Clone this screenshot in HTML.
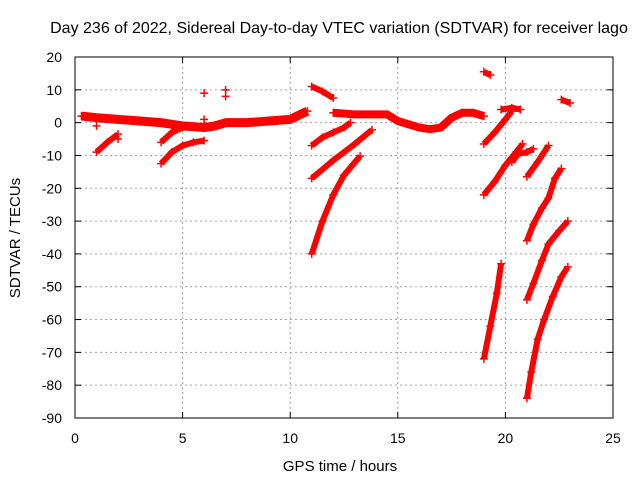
<!DOCTYPE html>
<html><head><meta charset="utf-8"><style>
body{margin:0;background:#fff}
svg{display:block;font-family:"Liberation Sans",sans-serif}
</style></head><body>
<svg id="c" width="640" height="480">
<text x="339" y="33" font-size="16" text-anchor="middle">Day 236 of 2022, Sidereal Day-to-day VTEC variation (SDTVAR) for receiver lago</text>
<text x="340" y="471" font-size="15" text-anchor="middle">GPS time / hours</text>
<text transform="translate(20,238) rotate(-90)" font-size="15" text-anchor="middle">SDTVAR / TECUs</text>
<g id="grid"></g><g id="ticks"></g><g id="marks"></g>
<rect x="75" y="57" width="538" height="361" fill="none" stroke="#000" stroke-width="1"/>
</svg>
<script>
const xTicks=[0,5,10,15,20,25];
const yTicks=[20,10,0,-10,-20,-30,-40,-50,-60,-70,-80,-90];
const mainBand=[[0.3,2],[1,1.5],[2,1],[3,0.5],[4,0],[5,-1],[6,-1.5],[6.5,-1],[7,0],[8,0],[9,0.5],[10,1],[10.8,3.5]];
const track2=[[1,-9],[1.5,-6],[2,-3.5]];
const track3=[[4,-6],[4.5,-3],[5,-1.5],[5.5,-1],[6,-1]];
const track4=[[4,-12.5],[4.5,-9],[5,-7],[5.5,-6],[6,-5.5]];
const track5=[[11,11],[11.5,9.5],[12,7.5]];
const track6=[[11,-7],[11.5,-4.5],[12,-3],[12.5,-1.5],[12.8,0]];
const track7=[[11,-17],[12,-11.5],[13,-6.5],[13.8,-2.2]];
const track8=[[11,-40],[11.5,-30],[12,-22],[12.5,-16],[13.25,-10.2]];
const band2=[[12,3],[13,2.5],[14,2.5],[14.5,2.5],[15,0.5],[15.5,-0.5],[16,-1.5],[16.5,-2],[17,-1.5],[17.5,1.5],[18,3],[18.5,3],[19,2]];
const track10=[[19,15.5],[19.3,14.5]];
const track11=[[19,-6.5],[19.5,-3],[20,1],[20.3,3.5]];
const track12=[[19.8,4],[20.3,4.5],[20.7,4]];
const track13=[[22.6,7],[23,6]];
const track14=[[19,-22],[19.5,-18],[20,-13],[20.5,-9],[20.8,-6.5]];
const track15=[[20.3,-12],[20.6,-9.5],[21,-9],[21.3,-8]];
const track16=[[21,-16.5],[21.5,-12],[22,-7]];
const track17=[[19,-72],[19.3,-62],[19.6,-52],[19.8,-43]];
const track18=[[21,-36],[21.3,-31],[21.7,-26],[22,-23],[22.3,-17],[22.6,-14]];
const track19=[[21,-54],[21.3,-49],[21.7,-42],[22,-37],[22.5,-33],[22.9,-30]];
const track20=[[21,-84],[21.2,-76],[21.5,-66],[21.8,-60],[22.2,-53],[22.6,-47],[22.9,-44]];
const outliers=[[6,9],[7,10],[7,8],[6,1],[7,0],[1,-1],[2,-5]];
const tracks=[mainBand,track2,track3,track4,track5,track6,track7,track8,band2,track10,track11,track12,track13,track14,track15,track16,track17,track18,track19,track20];
const widths=[9,6,6,6,6,6,6,6,8,6,6,6,6,6,6,6,6,6,6,6];
const X0=75,X1=613,Y0=57,Y1=418;
function sx(t){return X0+(t-0)/25*(X1-X0);}
function sy(v){return Y0+(20-v)/110*(Y1-Y0);}
const NS="http://www.w3.org/2000/svg";
function mk(tag,attrs,parent){const e=document.createElementNS(NS,tag);for(const k in attrs)e.setAttribute(k,attrs[k]);parent.appendChild(e);return e;}
const grid=document.getElementById('grid'),ticks=document.getElementById('ticks'),marks=document.getElementById('marks');
xTicks.forEach(t=>{
  const x=sx(t);
  if(t>0&&t<25){const g=mk('line',{x1:x,x2:x,y1:Y0,y2:Y1,stroke:'#a0a0a0','stroke-dasharray':'2,3'},grid);
  
  }
  mk('line',{x1:x,x2:x,y1:Y1,y2:Y1-6,stroke:'#000'},ticks);
  mk('line',{x1:x,x2:x,y1:Y0,y2:Y0+6,stroke:'#000'},ticks);
  const l=mk('text',{x:x,y:443,'font-size':14,'text-anchor':'middle'},ticks);l.textContent=t;
  
  
});
yTicks.forEach(v=>{
  const y=sy(v);
  if(v<20&&v>-90){const g=mk('line',{x1:X0,x2:X1,y1:y,y2:y,stroke:'#a0a0a0','stroke-dasharray':'2,3'},grid);
  
  }
  mk('line',{x1:X0,x2:X0+6,y1:y,y2:y,stroke:'#000'},ticks);
  mk('line',{x1:X1,x2:X1-6,y1:y,y2:y,stroke:'#000'},ticks);
  const l=mk('text',{x:62,y:y+5,'font-size':14,'text-anchor':'end'},ticks);l.textContent=v;
  
  
});
function plus(t,v){const x=sx(t),y=sy(v);
  const p=mk('path',{d:`M${x-4},${y}H${x+4}M${x},${y-4}V${y+4}`,stroke:'#f00','stroke-width':1.5,fill:'none'},marks);
  
  }
tracks.forEach((tr,i)=>{
  const pl=mk('polyline',{points:tr.map(p=>sx(p[0])+','+sy(p[1])).join(' '),stroke:'#f00','stroke-width':widths[i],fill:'none','stroke-linejoin':'round'},marks);
  
  
  tr.forEach(p=>plus(p[0],p[1]));
});
outliers.forEach(p=>plus(p[0],p[1]));
</script>
</body></html>
